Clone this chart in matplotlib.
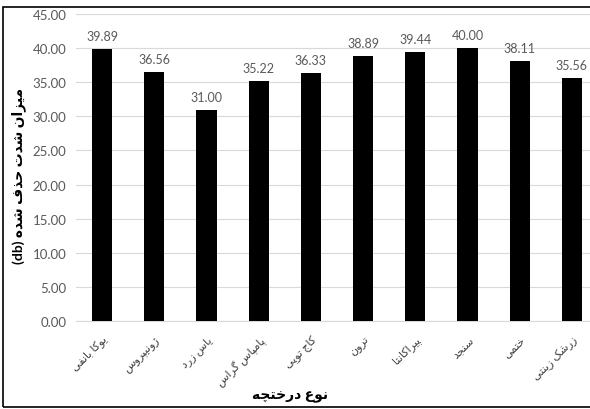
import matplotlib
matplotlib.use('Agg')
import matplotlib.pyplot as plt
from matplotlib.patches import Rectangle

# shrub types and the measured noise reduction (db)
shrubs = ['یوکا بانفی', 'ژونیپروس', 'یاس زرد', 'پامپاس گراس', 'کاج توپی',
          'ترون', 'پیراکانتا', 'سنجد', 'ختمی', 'زرشک زینتی']
values = [39.89, 36.56, 31.00, 35.22, 36.33, 38.89, 39.44, 40.00, 38.11, 35.56]
yticks = [0, 5, 10, 15, 20, 25, 30, 35, 40, 45]
xlabel = 'نوع درختچه'
ylabel = 'میزان شدت حذف شده'

# minimal persian shaping (matplotlib 3.10 has no complex text layout)
# letter: (isolated, final, initial, medial); None -> does not join forward
forms = {
    'ا': (0xFE8D, 0xFE8E, None, None), 'آ': (0xFE81, 0xFE82, None, None),
    'ب': (0xFE8F, 0xFE90, 0xFE91, 0xFE92), 'پ': (0xFB56, 0xFB57, 0xFB58, 0xFB59),
    'ت': (0xFE95, 0xFE96, 0xFE97, 0xFE98), 'ث': (0xFE99, 0xFE9A, 0xFE9B, 0xFE9C),
    'ج': (0xFE9D, 0xFE9E, 0xFE9F, 0xFEA0), 'چ': (0xFB7A, 0xFB7B, 0xFB7C, 0xFB7D),
    'ح': (0xFEA1, 0xFEA2, 0xFEA3, 0xFEA4), 'خ': (0xFEA5, 0xFEA6, 0xFEA7, 0xFEA8),
    'د': (0xFEA9, 0xFEAA, None, None), 'ذ': (0xFEAB, 0xFEAC, None, None),
    'ر': (0xFEAD, 0xFEAE, None, None), 'ز': (0xFEAF, 0xFEB0, None, None),
    'ژ': (0xFB8A, 0xFB8B, None, None),
    'س': (0xFEB1, 0xFEB2, 0xFEB3, 0xFEB4), 'ش': (0xFEB5, 0xFEB6, 0xFEB7, 0xFEB8),
    'ص': (0xFEB9, 0xFEBA, 0xFEBB, 0xFEBC), 'ض': (0xFEBD, 0xFEBE, 0xFEBF, 0xFEC0),
    'ط': (0xFEC1, 0xFEC2, 0xFEC3, 0xFEC4), 'ظ': (0xFEC5, 0xFEC6, 0xFEC7, 0xFEC8),
    'ع': (0xFEC9, 0xFECA, 0xFECB, 0xFECC), 'غ': (0xFECD, 0xFECE, 0xFECF, 0xFED0),
    'ف': (0xFED1, 0xFED2, 0xFED3, 0xFED4), 'ق': (0xFED5, 0xFED6, 0xFED7, 0xFED8),
    'ک': (0xFB8E, 0xFB8F, 0xFB90, 0xFB91), 'گ': (0xFB92, 0xFB93, 0xFB94, 0xFB95),
    'ل': (0xFEDD, 0xFEDE, 0xFEDF, 0xFEE0), 'م': (0xFEE1, 0xFEE2, 0xFEE3, 0xFEE4),
    'ن': (0xFEE5, 0xFEE6, 0xFEE7, 0xFEE8), 'و': (0xFEED, 0xFEEE, None, None),
    'ه': (0xFEE9, 0xFEEA, 0xFEEB, 0xFEEC), 'ی': (0xFBFC, 0xFBFD, 0xFBFE, 0xFBFF),
}


def fa(text):
    out = []
    for i, ch in enumerate(text):
        if ch not in forms:
            out.append(ch)
            continue
        f = forms[ch]
        prev = text[i - 1] if i > 0 else ''
        nxt = text[i + 1] if i + 1 < len(text) else ''
        join_prev = prev in forms and forms[prev][2] is not None
        join_next = f[2] is not None and nxt in forms
        if join_prev and join_next:
            cp = f[3]
        elif join_prev:
            cp = f[1]
        elif join_next:
            cp = f[2]
        else:
            cp = f[0]
        out.append(chr(cp))
    return ''.join(out)[::-1]


plt.rcParams['font.family'] = ['Lato', 'DejaVu Sans']

fig = plt.figure(figsize=(5.9, 4.1), dpi=100)
ax = fig.add_axes([76 / 590, 88 / 410, 522 / 590, 307 / 410])

x = list(range(len(values)))
ax.bar(x, values, width=0.39, color='black', zorder=3)
for xi, v in zip(x, values):
    ax.annotate('%.2f' % v, (xi, v), xytext=(0, 5), textcoords='offset points',
                ha='center', va='bottom', fontsize=9, color='#595959')

ax.set_ylim(0, 45)
ax.set_xlim(-0.5, len(values) - 0.5)
ax.set_yticks(yticks)
ax.set_yticklabels(['%.2f' % t for t in yticks], fontsize=9.5, color='#595959')
ax.set_xticks(x)
ax.set_xticklabels([fa(s) for s in shrubs], rotation=45, ha='right', va='top',
                   rotation_mode='anchor', fontsize=8, color='#404040')
ax.tick_params(axis='both', length=0)
ax.tick_params(axis='y', pad=7)
ax.tick_params(axis='x', pad=9)
ax.grid(axis='y', color='#d9d9d9', linewidth=0.8, zorder=0)
for s in ['top', 'right', 'left']:
    ax.spines[s].set_visible(False)
ax.spines['bottom'].set_color('#d9d9d9')

fig.text(290 / 590, 1 - 397 / 410, fa(xlabel), ha='center', va='center',
         fontsize=10, fontweight='bold')
fig.text(19 / 590, 1 - 176 / 410, '(db) ' + fa(ylabel), ha='center', va='center',
         rotation=90, fontsize=10, fontweight='bold')

fig.patches.append(Rectangle((3 / 590, 2 / 410), 1.0, 400 / 410,
                             transform=fig.transFigure, fill=False,
                             edgecolor='black', linewidth=1.2))

fig.savefig('out.png', dpi=100)
